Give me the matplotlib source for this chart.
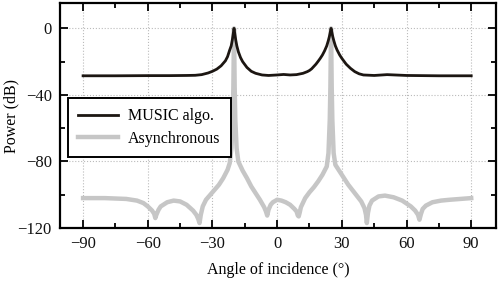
import matplotlib
matplotlib.use("Agg")
import matplotlib.pyplot as plt
from matplotlib.ticker import MultipleLocator

plt.rcParams["font.family"] = ["Liberation Serif", "DejaVu Serif"]

# MUSIC spectrum
music_angle = [-90, -75, -60, -50, -42, -38, -35, -32, -30, -28, -26, -24, -23, -22,
               -21.3, -20.8, -20.4, -20, -19.6, -19.2, -18.7, -18, -17, -16, -14, -12,
               -10, -7, -4, 0, 3, 6, 9, 12, 14, 15, 16, 18, 19, 20, 21, 22, 23, 23.7,
               24.2, 24.6, 25, 25.4, 25.8, 26.3, 27, 27.8, 29, 30, 32, 34, 36, 38, 40,
               45, 51, 60, 75, 90]
music_db = [-28.5, -28.5, -28.4, -28.4, -28.3, -28.2, -27.8, -26.8, -25.8, -24.5, -22.5, -19.5, -17, -13,
            -10.5, -7, -3.5, 0, -3.5, -7, -10.5, -14, -17.5, -20, -23.5, -25.8,
            -27.0, -28.0, -28.3, -28.0, -27.7, -28.0, -27.8, -27.0, -26.0, -25.3, -24.3, -21.5, -19.8, -18, -16, -13.5, -10.5, -7.5,
            -5, -2.5, 0, -2.5, -5, -7.5, -10.5, -13, -16, -18, -21.5, -24, -26, -27.3, -28,
            -28.3, -27.8, -28.3, -28.5, -28.5]

# Asynchronous spectrum
async_angle = [-90, -80, -70, -65, -62, -60, -58, -57, -56.5, -56, -55, -54, -51, -48,
               -45, -42, -39, -37.5, -36.6, -36, -35.4, -34.5, -33, -30, -27, -25, -23,
               -22, -21.2, -20.6, -20.3, -20, -19.7, -19.4, -18.8, -18, -16, -14, -12,
               -10, -8, -6, -5.2, -4.6, -4, -3, -2, 0, 2, 4, 6, 8, 9, 9.6, 10, 10.5, 11,
               13, 15, 17, 19, 21, 23, 23.8, 24.4, 24.7, 25, 25.3, 25.6, 26.2, 27, 30,
               33, 36, 39, 40.5, 41.2, 41.6, 42.1, 42.8, 44, 47, 50, 54, 58, 62, 64,
               65.3, 66, 66.7, 67.5, 69, 72, 76, 80, 85, 90]
async_db = [-102, -102, -102.5, -103.5, -105, -107, -109.5, -111.5, -114, -112, -109, -107, -104.5, -103.5,
            -104, -106, -109.5, -112, -114.5, -117, -112, -107, -103, -98.5, -94, -90, -85,
            -81, -72, -55, -35, 0, -35, -55, -72, -80, -85.5, -90, -95,
            -99, -103, -107.5, -110, -112.5, -109, -106, -104.5, -103, -103.5, -104.5, -106, -108.5, -110, -112.5, -113, -110.5, -107.5,
            -102, -98.5, -95.5, -92, -88, -83, -75, -55, -35, 0, -35, -55, -75, -82, -88,
            -94, -99, -104, -108, -112, -117, -111, -106.5, -103.5, -101, -100.5, -101.5, -103.5, -107, -109.5,
            -112, -115, -111.5, -108.5, -106.5, -104.5, -103.5, -103, -102.5, -102]

x_ticks = [-90, -60, -30, 0, 30, 60, 90]
y_ticks = [-120, -80, -40, 0]

fig, ax = plt.subplots(figsize=(4.98, 2.84), dpi=100)
fig.subplots_adjust(left=0.1205, right=0.996, bottom=0.197, top=0.988)

ax.plot(async_angle, async_db, color="#c6c6c6", linewidth=3.2,
        solid_joinstyle="round", label="Asynchronous", zorder=2)
ax.plot(music_angle, music_db, color="#1c1612", linewidth=2.0,
        solid_joinstyle="round", label="MUSIC algo.", zorder=3)

ax.set_xlim(-100.7, 101.5)
ax.set_ylim(-120, 15)
ax.set_xticks(x_ticks)
ax.set_yticks(y_ticks)
ax.set_xticklabels([f"{t:d}".replace("-", "\u2212") for t in x_ticks])
ax.set_yticklabels([f"{t:d}".replace("-", "\u2212") for t in y_ticks])
ax.xaxis.set_minor_locator(MultipleLocator(15))
ax.yaxis.set_minor_locator(MultipleLocator(20))
ax.tick_params(which="both", direction="in", top=True, right=True, width=1.4,
               labelsize=12, colors="#111111")
ax.tick_params(which="major", length=6, pad=6)
ax.tick_params(which="minor", length=3.5)
for s in ax.spines.values():
    s.set_linewidth(1.6)
ax.grid(True, which="major", linestyle=":", color="#bbbbbb", linewidth=0.8)

ax.set_xlabel("Angle of incidence (\u00b0)", fontsize=11.5, labelpad=7)
ax.set_ylabel("Power (dB)", fontsize=11.5)
ax.yaxis.set_label_coords(-0.094, 0.5)

handles, labels = ax.get_legend_handles_labels()
leg = ax.legend(handles[::-1], labels[::-1], loc="lower left",
                bbox_to_anchor=(0.018, 0.316), borderaxespad=0, fontsize=11.5,
                fancybox=False, framealpha=1, edgecolor="black",
                handlelength=2.5, handletextpad=0.6, labelspacing=0.4,
                borderpad=0.65)
leg.get_frame().set_linewidth(1.4)

fig.savefig("out.png", dpi=100)
